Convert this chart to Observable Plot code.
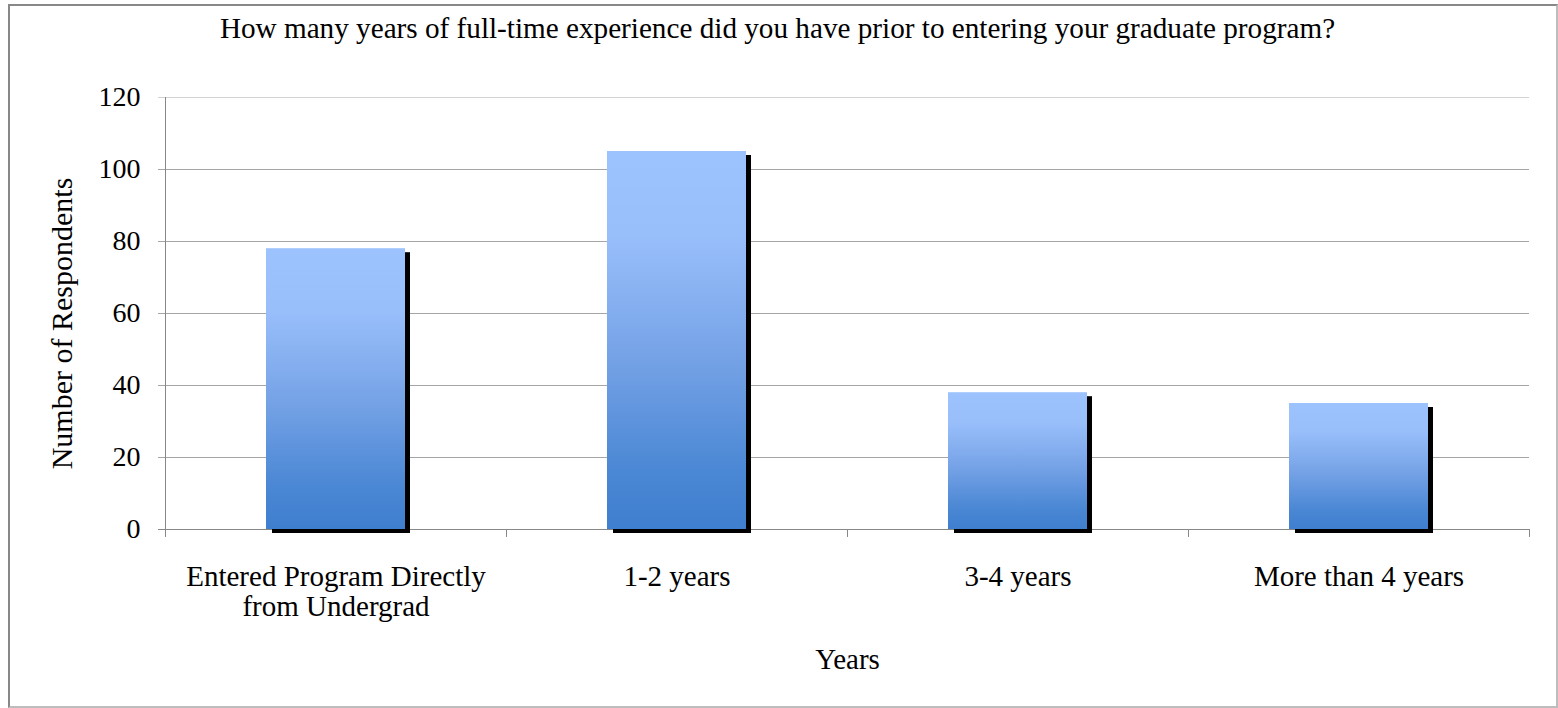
<!DOCTYPE html>
<html><head><meta charset="utf-8">
<script src="https://cdn.jsdelivr.net/npm/d3@7"></script>
<script src="https://cdn.jsdelivr.net/npm/@observablehq/plot@0.6"></script>
<style>
body{margin:0;background:#fff;}
#wrap{position:relative;width:1558px;height:708px;overflow:hidden;background:#fff;}
#frame{position:absolute;left:8px;top:4px;width:1546px;height:700px;border-left:2px solid #888;border-top:2px solid #888;border-right:2px solid #bdbdbd;border-bottom:2px solid #bdbdbd;}
#wrap svg{position:absolute;left:0;top:0;}
</style></head><body><div id="wrap"><div id="frame"></div></div>
<script>
const categories = ["Entered Program Directly\nfrom Undergrad", "1-2 years", "3-4 years", "More than 4 years"];
const respondents = [78, 105, 38, 35];
const yTicks = [0, 20, 40, 60, 80, 100, 120];
const titleText = "How many years of full-time experience did you have prior to entering your graduate program?";
const xLabel = "Years";
const yLabel = "Number of Respondents";

const data = categories.map((c, i) => ({category: c, value: respondents[i]}));

const W = 1558, H = 708;
const mL = 165, mR = 29, mT = 97, mB = 179;
const step = (W - mL - mR) / categories.length;
const plotH = H - mT - mB;
const inset = 101;

const svg = Plot.plot({
  width: W, height: H,
  marginLeft: mL, marginRight: mR, marginTop: mT, marginBottom: mB,
  style: {fontFamily: "'Liberation Serif', 'Times New Roman', serif", color: "black", background: "transparent", overflow: "visible"},
  x: {type: "band", domain: categories, padding: 0, axis: null},
  y: {domain: [0, 120], axis: null},
  marks: [
    Plot.ruleY(yTicks.filter(t => t > 0 && t < 120), {stroke: "#a6a6a6", insetLeft: -7}),
    Plot.ruleY([120], {stroke: "#d2d2d2", insetLeft: -7}),
    Plot.ruleY([0], {stroke: "#888", insetLeft: -7}),
    Plot.ruleX([categories[0]], {dx: -step / 2, stroke: "#888", insetBottom: -8}),
    Plot.ruleX(categories.slice(1), {dx: -step / 2, stroke: "#888", insetTop: plotH, insetBottom: -8}),
    Plot.ruleX([categories[categories.length - 1]], {dx: step / 2, stroke: "#888", insetTop: plotH, insetBottom: -8}),
    Plot.barY(data, {x: "category", y: "value", fill: "black", insetLeft: inset + 1, insetRight: inset, dx: 5, dy: 4}),
    Plot.barY(data, {x: "category", y: "value", fill: "url(#barGrad)", insetLeft: inset, insetRight: inset}),
    Plot.axisY(yTicks, {tickSize: 0, tickPadding: 25, fontSize: 28, label: null}),
    Plot.text(categories, {x: d => d, frameAnchor: "bottom", lineAnchor: "top", dy: 35, fontSize: 29, lineHeight: 1.03}),
    Plot.text([titleText], {frameAnchor: "top", dx: -70, dy: -80, fontSize: 29.2}),
    Plot.text([xLabel], {frameAnchor: "bottom", dy: 139, fontSize: 29}),
    Plot.text([yLabel], {frameAnchor: "left", textAnchor: "middle", rotate: -90, dx: -103, dy: 10, fontSize: 30})
  ]
});

const ns = "http://www.w3.org/2000/svg";
const defs = document.createElementNS(ns, "defs");
const grad = document.createElementNS(ns, "linearGradient");
grad.setAttribute("id", "barGrad");
grad.setAttribute("x1", "0"); grad.setAttribute("y1", "0");
grad.setAttribute("x2", "0"); grad.setAttribute("y2", "1");
[[0, "#9dc3ff"], [0.22, "#99bffb"], [0.55, "#75a2e6"], [0.85, "#4a87d4"], [1, "#3f7fcf"]].forEach(([o, c]) => {
  const s = document.createElementNS(ns, "stop");
  s.setAttribute("offset", o);
  s.setAttribute("stop-color", c);
  grad.appendChild(s);
});
defs.appendChild(grad);
svg.insertBefore(defs, svg.firstChild);
document.getElementById("wrap").appendChild(svg);
</script>
</body></html>
